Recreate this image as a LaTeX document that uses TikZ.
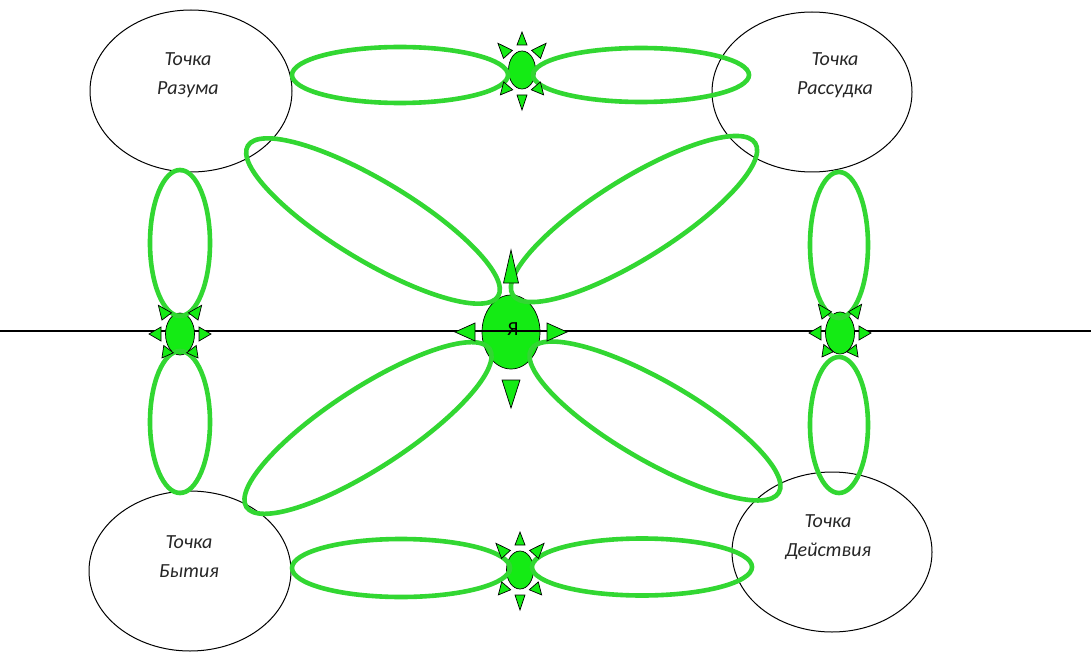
\documentclass[tikz,border=0pt]{standalone}
\usepackage{fontspec}
\usetikzlibrary{shapes.geometric}
\newfontfamily\lblfont{Carlito}
\definecolor{petalgreen}{RGB}{50,215,50}
\definecolor{sungreen}{RGB}{20,235,20}
\newcommand\sunray[6]{\filldraw[tri,shift={(#1,#2)},rotate=#3] (#5,0) -- (#4,#6) -- (#4,-#6) -- cycle;}
\tikzset{
  point/.style={ellipse, draw=black, line width=1pt, inner sep=0pt, fill=white},
  lbl/.style={font=\lblfont\itshape\fontsize{20}{29}\selectfont, align=center, text=black!85},
  petal/.style={ellipse, draw=petalgreen, line width=4.6pt, inner sep=0pt},
  sunc/.style={ellipse, fill=sungreen, draw=black, line width=0.7pt, inner sep=0pt},
  tri/.style={fill=sungreen, draw=black, line width=0.7pt, line join=miter},
  axis/.style={draw=black, line width=1.2pt}
}
\begin{document}
\begin{tikzpicture}[x=1pt,y=-1pt]
\useasboundingbox[fill=white] (0,0) rectangle (1091,652);
% black point ellipses
\node[point, minimum width=202, minimum height=162] (razum) at (191,91) {};
\node[point, minimum width=200, minimum height=160] (rassudok) at (812,92) {};
\node[point, minimum width=202, minimum height=160] (bytie) at (190,571) {};
\node[point, minimum width=200, minimum height=160] (deistvie) at (832,552) {};
% centre sun
\node[sunc, minimum width=58, minimum height=74] (ya) at (511,332) {};
% axis line
\coordinate (L) at (0,331);
\coordinate (R) at (1091,331);
\draw[axis] (L) -- (R);
% small suns
\node[sunc, minimum width=29, minimum height=42] (sl) at (180,334) {};
\node[sunc, minimum width=29, minimum height=42] (sr) at (840,333) {};
\node[sunc, minimum width=27, minimum height=38] (st) at (522,70) {};
\node[sunc, minimum width=27, minimum height=38] (sb) at (520,570) {};
% petals: horizontal
\node[petal, minimum width=216, minimum height=56] (ptl) at (400,75) {};
\node[petal, minimum width=216, minimum height=54] (ptr) at (641,75) {};
\node[petal, minimum width=218, minimum height=58] (pbl) at (401,568) {};
\node[petal, minimum width=220, minimum height=57] (pbr) at (642,567) {};
% petals: vertical
\node[petal, minimum width=60, minimum height=146] (plt) at (180,243) {};
\node[petal, minimum width=60, minimum height=142] (plb) at (180,422) {};
\node[petal, minimum width=58, minimum height=146] (prt) at (839,245) {};
\node[petal, minimum width=58, minimum height=136] (prb) at (839,425) {};
% petals: diagonal
\node[petal, minimum width=292, minimum height=80, rotate=-31] (dtl) at (373,221) {};
\node[petal, minimum width=286, minimum height=80, rotate=32] (dtr) at (634,219) {};
\node[petal, minimum width=290, minimum height=80, rotate=33] (dbl) at (368,428) {};
\node[petal, minimum width=286, minimum height=80, rotate=-30] (dbr) at (655,421) {};
% rays of centre sun
\sunray{511}{332}{90}{49}{82}{7.5}
\sunray{511}{332}{-90}{48}{76}{9}
\sunray{511}{332}{180}{36}{56}{9}
\sunray{511}{332}{0}{36}{56}{9}
% rays of left sun
\sunray{180}{334}{180}{19}{31}{7}
\sunray{180}{334}{0}{19}{31}{7}
\sunray{180}{334}{127}{22}{36}{6}
\sunray{180}{334}{53}{22}{36}{6}
\sunray{180}{334}{233}{19}{30}{6}
\sunray{180}{334}{307}{19}{30}{6}
% rays of right sun
\sunray{840}{333}{180}{19}{31}{7}
\sunray{840}{333}{0}{19}{31}{7}
\sunray{840}{333}{127}{22}{36}{6}
\sunray{840}{333}{53}{22}{36}{6}
\sunray{840}{333}{233}{19}{30}{6}
\sunray{840}{333}{307}{19}{30}{6}
% rays of top sun
\sunray{522}{70}{90}{25}{38}{5}
\sunray{522}{70}{-90}{25}{40}{5}
\sunray{522}{70}{132}{21}{36}{6}
\sunray{522}{70}{48}{21}{36}{6}
\sunray{522}{70}{229}{21}{33}{6}
\sunray{522}{70}{311}{21}{33}{6}
% rays of bottom sun
\sunray{520}{570}{90}{25}{38}{5}
\sunray{520}{570}{-90}{25}{40}{5}
\sunray{520}{570}{132}{21}{36}{6}
\sunray{520}{570}{48}{21}{36}{6}
\sunray{520}{570}{229}{21}{33}{6}
\sunray{520}{570}{311}{21}{33}{6}
% labels
\node[lbl] (trazum) at (188,75) {Точка\\Разума};
\node[lbl] (trassudok) at (835,75) {Точка\\Рассудка};
\node[lbl] (tbytie) at (189,557) {Точка\\Бытия};
\node[lbl] (tdeistvie) at (828,537) {Точка\\Действия};
\node[font=\lblfont\fontsize{20}{22}\selectfont, text=black] (tya) at (513,329) {Я};
\end{tikzpicture}
\end{document}
